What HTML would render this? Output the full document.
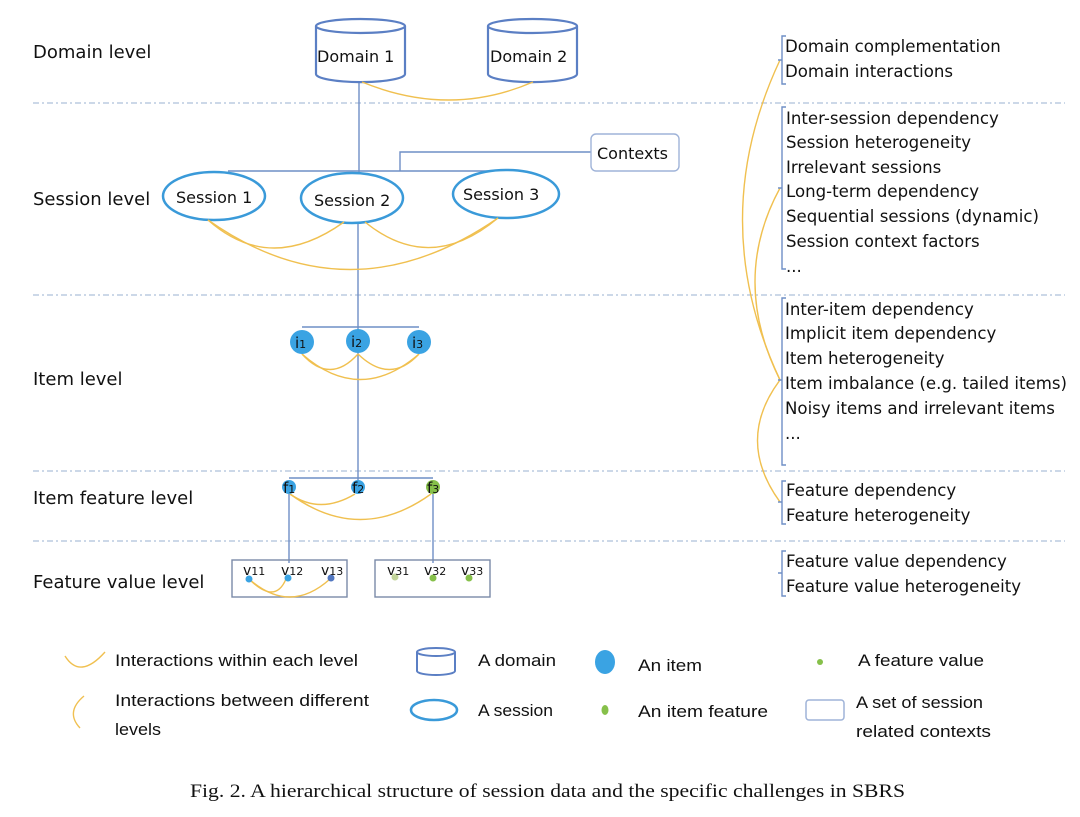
<!DOCTYPE html>
<html><head><meta charset="utf-8"><style>
html,body{margin:0;padding:0;background:#fff}
svg{display:block}
text{font-family:"DejaVu Sans","Liberation Sans",sans-serif;fill:#111}
.l{font-size:18px}
.r{font-size:16.6px}
.s{font-size:16px}
.g{font-size:17px;font-family:"Liberation Sans Narrow","Liberation Sans",sans-serif}
</style></head><body>
<svg width="1080" height="817" viewBox="0 0 1080 817" xmlns="http://www.w3.org/2000/svg">
<g stroke="#9ab0d0" stroke-width="1" stroke-dasharray="6,3,2,3" fill="none">
<line x1="33" y1="103" x2="1065" y2="103"/>
<line x1="33" y1="295" x2="1065" y2="295"/>
<line x1="33" y1="471" x2="1065" y2="471"/>
<line x1="33" y1="541" x2="1065" y2="541"/>
</g>
<text class="l" x="33" y="58">Domain level</text>
<text class="l" x="33" y="205">Session level</text>
<text class="l" x="33" y="385">Item level</text>
<text class="l" x="33" y="504">Item feature level</text>
<text class="l" x="33" y="588">Feature value level</text>

<g stroke="#6f8fc6" stroke-width="1.4" fill="none">
<line x1="359" y1="82" x2="359" y2="173"/>
<line x1="228" y1="171" x2="505" y2="171"/>
<polyline points="400,171 400,152 591,152"/>
<line x1="358" y1="222" x2="358" y2="330"/>
<line x1="302" y1="327" x2="419" y2="327"/>
<line x1="358" y1="352" x2="358" y2="480"/>
<line x1="289" y1="478" x2="433" y2="478"/>
<line x1="289" y1="494" x2="289" y2="563"/>
<line x1="433" y1="494" x2="433" y2="563"/>
<rect x="591" y="134" width="88" height="37" rx="5" stroke="#9fb3d8"/>
<rect x="232" y="560" width="115" height="37" stroke="#7a8aa8"/>
<rect x="375" y="560" width="115" height="37" stroke="#7a8aa8"/>
</g>
<text class="s" x="597" y="159">Contexts</text>

<g stroke="#5b7fc4" stroke-width="2.2" fill="#fff">
<path d="M316,26 v48 a44,8 0 0 0 89,0 v-48"/>
<ellipse cx="360.5" cy="26" rx="44.5" ry="7"/>
<path d="M488,26 v48 a44,8 0 0 0 89,0 v-48"/>
<ellipse cx="532.5" cy="26" rx="44.5" ry="7"/>
</g>
<text class="s" x="317" y="62">Domain 1</text>
<text class="s" x="490" y="62">Domain 2</text>

<g stroke="#3a9ad9" stroke-width="2.5" fill="#fff">
<ellipse cx="214" cy="196" rx="51" ry="24"/>
<ellipse cx="352" cy="198" rx="51" ry="25"/>
<ellipse cx="506" cy="194" rx="53" ry="24"/>
</g>
<text class="s" x="176" y="203">Session 1</text>
<text class="s" x="314" y="206">Session 2</text>
<text class="s" x="463" y="200">Session 3</text>

<g stroke="#f0c050" stroke-width="1.4" fill="none">
<path d="M362,82 Q450,118 533,82"/>
<path d="M208,220 Q270,275 344,222"/>
<path d="M208,220 Q350,320 498,218"/>
<path d="M365,222 Q430,275 498,218"/>
<path d="M302,354 Q330,385 358,354"/>
<path d="M302,354 Q360,405 419,354"/>
<path d="M358,354 Q390,385 419,354"/>
<path d="M290,494 Q320,515 355,494"/>
<path d="M290,494 Q360,545 431,494"/>
<path d="M249,579 Q275,605 286,579"/>
<path d="M249,579 Q290,615 330,579"/>
<path d="M780,60 Q705,220 780,380"/>
<path d="M780,188 Q730,280 780,380"/>
<path d="M780,380 Q735,440 780,502"/>
</g>

<g fill="#3aa3e3">
<circle cx="302" cy="342" r="12"/>
<circle cx="358" cy="341" r="12"/>
<circle cx="419" cy="342" r="12"/>
<circle cx="289" cy="487" r="7"/>
<circle cx="358" cy="487" r="7"/>
<circle cx="249" cy="579" r="3.5"/>
<circle cx="288" cy="578" r="3.5"/>
</g>
<circle cx="433" cy="487" r="7" fill="#86c04a"/>
<circle cx="331" cy="578" r="3.5" fill="#5277c0"/>
<circle cx="395" cy="577" r="3.5" fill="#c2d49a"/>
<circle cx="433" cy="578" r="3.5" fill="#86c04a"/>
<circle cx="469" cy="578" r="3.5" fill="#86c04a"/>
<g style="font-size:15px">
<text x="295" y="348">i<tspan font-size="11">1</tspan></text>
<text x="351" y="347">i<tspan font-size="11">2</tspan></text>
<text x="412" y="348">i<tspan font-size="11">3</tspan></text>
<text x="283" y="493">f<tspan font-size="11">1</tspan></text>
<text x="352" y="493">f<tspan font-size="11">2</tspan></text>
<text x="427" y="493">f<tspan font-size="11">3</tspan></text>
</g>
<g style="font-size:14px">
<text x="243" y="575">v<tspan font-size="11">11</tspan></text>
<text x="281" y="575">v<tspan font-size="11">12</tspan></text>
<text x="321" y="575">v<tspan font-size="11">13</tspan></text>
<text x="387" y="575">v<tspan font-size="11">31</tspan></text>
<text x="424" y="575">v<tspan font-size="11">32</tspan></text>
<text x="461" y="575">v<tspan font-size="11">33</tspan></text>
</g>

<g stroke="#6f8fc6" stroke-width="1.4" fill="none">
<path d="M786,36 h-4 v48 h4 M782,60 h-4"/>
<path d="M786,107 h-4 v162 h4 M782,188 h-4"/>
<path d="M786,298 h-4 v167 h4 M782,380 h-4"/>
<path d="M786,481 h-4 v43 h4 M782,502 h-4"/>
<path d="M786,551 h-4 v45 h4 M782,573 h-4"/>
</g>
<text class="r" x="785" y="52">Domain complementation</text>
<text class="r" x="785" y="77">Domain interactions</text>
<text class="r" x="786" y="124">Inter-session dependency</text>
<text class="r" x="786" y="148">Session heterogeneity</text>
<text class="r" x="786" y="173">Irrelevant sessions</text>
<text class="r" x="786" y="197">Long-term dependency</text>
<text class="r" x="786" y="222">Sequential sessions (dynamic)</text>
<text class="r" x="786" y="247">Session context factors</text>
<text class="r" x="786" y="272">...</text>
<text class="r" x="785" y="315">Inter-item dependency</text>
<text class="r" x="785" y="339">Implicit item dependency</text>
<text class="r" x="785" y="364">Item heterogeneity</text>
<text class="r" x="785" y="389">Item imbalance (e.g. tailed items)</text>
<text class="r" x="785" y="414">Noisy items and irrelevant items</text>
<text class="r" x="785" y="439">...</text>
<text class="r" x="786" y="496">Feature dependency</text>
<text class="r" x="786" y="521">Feature heterogeneity</text>
<text class="r" x="786" y="567">Feature value dependency</text>
<text class="r" x="786" y="592">Feature value heterogeneity</text>

<path d="M65,656 Q80,680 105,652" stroke="#f0c050" stroke-width="1.4" fill="none"/>
<path d="M84,696 Q65,712 80,728" stroke="#f0c050" stroke-width="1.4" fill="none"/>
<g lengthAdjust="spacingAndGlyphs">
<text class="g" x="115" y="666" textLength="243" lengthAdjust="spacingAndGlyphs">Interactions within each level</text>
<text class="g" x="115" y="706" textLength="254" lengthAdjust="spacingAndGlyphs">Interactions between different</text>
<text class="g" x="115" y="735" textLength="46" lengthAdjust="spacingAndGlyphs">levels</text>
<text class="g" x="478" y="666" textLength="78" lengthAdjust="spacingAndGlyphs">A domain</text>
<text class="g" x="478" y="716" textLength="75" lengthAdjust="spacingAndGlyphs">A session</text>
<text class="g" x="638" y="671" textLength="64" lengthAdjust="spacingAndGlyphs">An item</text>
<text class="g" x="638" y="717" textLength="130" lengthAdjust="spacingAndGlyphs">An item feature</text>
<text class="g" x="858" y="666" textLength="126" lengthAdjust="spacingAndGlyphs">A feature value</text>
<text class="g" x="856" y="708" textLength="127" lengthAdjust="spacingAndGlyphs">A set of session</text>
<text class="g" x="856" y="737" textLength="135" lengthAdjust="spacingAndGlyphs">related contexts</text>
</g>
<g stroke="#5b7fc4" stroke-width="2" fill="#fff">
<path d="M417,652 v19 a19,4 0 0 0 38,0 v-19"/>
<ellipse cx="436" cy="652" rx="19" ry="4"/>
</g>
<ellipse cx="434" cy="710" rx="23" ry="10" stroke="#3a9ad9" stroke-width="2.5" fill="#fff"/>
<ellipse cx="605" cy="662" rx="10" ry="12" fill="#3aa3e3"/>
<ellipse cx="605" cy="710" rx="3.5" ry="5" fill="#86c04a"/>
<circle cx="820" cy="662" r="3" fill="#86c04a"/>
<rect x="806" y="700" width="38" height="20" rx="3" stroke="#9fb3d8" stroke-width="1.5" fill="#fff"/>

<text x="190" y="797" textLength="715" lengthAdjust="spacingAndGlyphs" style="font-family:'Liberation Serif',serif;font-size:19px">Fig. 2.  A hierarchical structure of session data and the specific challenges in SBRS</text>
</svg>
</body></html>
